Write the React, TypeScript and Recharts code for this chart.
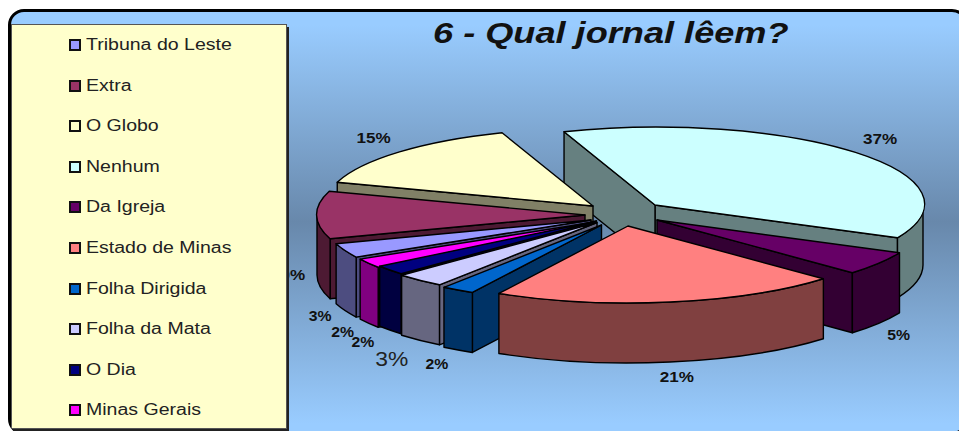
import { PieChart, Pie, Legend } from 'recharts';

// legend order, top to bottom
const categories = [
  'Tribuna do Leste',
  'Extra',
  'O Globo',
  'Nenhum',
  'Da Igreja',
  'Estado de Minas',
  'Folha Dirigida',
  'Folha da Mata',
  'O Dia',
  'Minas Gerais',
];
const values = [3, 10, 15, 37, 5, 21, 2, 3, 2, 2];
const colors = [
  '#9999ff',
  '#993366',
  '#ffffcc',
  '#ccffff',
  '#660066',
  '#ff8080',
  '#0066cc',
  '#ccccff',
  '#000080',
  '#ff00ff',
];
// how far each slice is pulled out of the pie
const explode = [
  [-9, 7],
  [-15, 2],
  [-7, -7],
  [55, -8],
  [57, 7],
  [28, 13],
  [1.5, 12],
  [-3, 9.5],
  [-3.5, 8],
  [-5, 9],
];
const labelNudge = [
  [-25, 65],
  [-29, 60],
  [-30, -14],
  [24, -15],
  [20, 72],
  [7, 75],
  [-21, 74],
  [-28, 78],
  [-27, 72],
  [-26, 69],
];
// counter clockwise from the right edge of Nenhum, back slices get painted first
const pieOrder = [3, 2, 1, 0, 9, 8, 7, 6, 5, 4];
const data = pieOrder.map((i) => ({ name: categories[i], value: values[i], idx: i }));

const RADIUS = 268;
const TILT = 77 / 268;
const DEPTH = 60;
const BACK_SKEW = 9; // far edge of the pie leans left a bit in the original
const rad = (a: number) => (a * Math.PI) / 180;

function darken(hex: string) {
  const n = parseInt(hex.slice(1), 16);
  const half = (v: number) => Math.round(v / 2);
  return `rgb(${half(n >> 16)},${half((n >> 8) & 255)},${half(n & 255)})`;
}

function Slice3D(props: any) {
  const { cx, cy, startAngle, endAngle, outerRadius, payload, only } = props;
  const idx = payload?.idx ?? props.idx;
  const front = idx === 5;
  if (only !== front) return <g />;
  const ax = cx + explode[idx][0];
  const ay = cy + explode[idx][1];
  const rx = outerRadius;
  const ry = outerRadius * TILT;
  const pt = (a: number): [number, number] => {
    const s = Math.sin(rad(a));
    return [ax + rx * Math.cos(rad(a)) - (s > 0 ? BACK_SKEW * s * s : 0), ay - ry * s];
  };
  const arc = (from: number, to: number, dy = 0, sweep = 0) => {
    const [x, y] = pt(to);
    return `A ${rx} ${ry} 0 ${Math.abs(to - from) > 180 ? 1 : 0} ${sweep} ${x} ${y + dy}`;
  };
  const top = pt(startAngle);
  const fill = colors[idx];
  const wall = darken(fill);
  const mid = pt((startAngle + endAngle) / 2);

  const sideWalls = [startAngle, endAngle].filter((a) => {
    let [ex, ey] = pt(a);
    ex -= ax;
    ey -= ay;
    if (ex < 0) {
      ex = -ex;
      ey = -ey;
    }
    return ex * (mid[1] - ay) - ey * (mid[0] - ax) < 0;
  });

  const outer = [
    [-180, 0],
    [180, 360],
  ]
    .map(([lo, hi]) => [Math.max(lo, startAngle), Math.min(hi, endAngle)])
    .filter(([lo, hi]) => hi > lo);

  return (
    <g stroke="#000" strokeWidth={1.4} strokeLinejoin="round">
      {sideWalls.map((a) => {
        const [x, y] = pt(a);
        return (
          <path
            key={a}
            fill={wall}
            d={`M ${ax} ${ay} L ${x} ${y} L ${x} ${y + DEPTH} L ${ax} ${ay + DEPTH} Z`}
          />
        );
      })}
      {outer.map(([lo, hi]) => {
        const [x0, y0] = pt(lo);
        const [x1, y1] = pt(hi);
        return (
          <path
            key={lo}
            fill={wall}
            d={`M ${x0} ${y0} ${arc(lo, hi)} L ${x1} ${y1 + DEPTH} ${arc(hi, lo, DEPTH, 1)} Z`}
          />
        );
      })}
      <path fill={fill} d={`M ${ax} ${ay} L ${top[0]} ${top[1]} ${arc(startAngle, endAngle)} Z`} />
    </g>
  );
}

function SliceLabel(props: any) {
  const { cx, cy, midAngle, outerRadius, payload, only } = props;
  const idx = payload?.idx ?? props.idx;
  if (only !== (idx === 5)) return null;
  const x = cx + explode[idx][0] + outerRadius * Math.cos(rad(midAngle)) + labelNudge[idx][0];
  const y = cy + explode[idx][1] - outerRadius * TILT * Math.sin(rad(midAngle)) + labelNudge[idx][1];
  const big = categories[idx] === 'Folha da Mata';
  const text = `${values[idx]}%`;
  return (
    <text
      x={x}
      y={y}
      textAnchor="middle"
      dominantBaseline="central"
      fontFamily="Liberation Sans"
      fontSize={big ? 21 : 14}
      fontWeight={big ? 400 : 700}
      fill={big ? '#222' : '#111'}
      textLength={big ? 33 : text.length * 11.4}
      lengthAdjust="spacingAndGlyphs"
    >
      {text}
    </text>
  );
}

function ChartLegend() {
  return (
    <div
      style={{
        width: 274,
        height: 403,
        background: '#ffffcc',
        border: '1px solid #555',
        boxShadow: '2px 3px 0 #222',
        position: 'relative',
        fontFamily: 'Liberation Sans',
      }}
    >
      {categories.map((name, i) => (
        <div
          key={name}
          style={{ position: 'absolute', left: 57, top: 12 + i * 40.6, height: 16, display: 'flex', alignItems: 'center' }}
        >
          <span
            style={{
              width: 8,
              height: 8,
              border: '2px solid #111',
              background: colors[i],
              display: 'inline-block',
            }}
          />
          <span
            style={{
              marginLeft: 5,
              fontSize: 16,
              color: '#222',
              whiteSpace: 'nowrap',
              transform: 'scaleX(1.22)',
              transformOrigin: 'left center',
            }}
          >
            {name}
          </span>
        </div>
      ))}
    </div>
  );
}

export default function App() {
  return (
    <div style={{ position: 'absolute', left: 0, top: 0, width: 959, height: 431, overflow: 'hidden', background: '#fff' }}>
      <div
        style={{
          position: 'absolute',
          left: 8,
          top: 9,
          width: 960,
          height: 426,
          boxSizing: 'border-box',
          border: '3.5px solid #000',
          borderRadius: 16,
          background: 'linear-gradient(180deg, #99ccff 3%, #6888ab 50%, #99ccff 98%)',
        }}
      />
      <div
        style={{
          position: 'absolute',
          left: 433,
          top: 16,
          fontFamily: 'Liberation Sans',
          fontStyle: 'italic',
          fontWeight: 700,
          fontSize: 30,
          color: '#111',
          whiteSpace: 'nowrap',
          transform: 'scaleX(1.205)',
          transformOrigin: 'left center',
        }}
      >
        6 - Qual jornal lêem?
      </div>
      <div style={{ position: 'absolute', left: 0, top: 0 }}>
        <PieChart width={959} height={431} margin={{ top: 0, right: 0, bottom: 0, left: 0 }}>
          <Pie
            data={data}
            dataKey="value"
            nameKey="name"
            cx={600}
            cy={213}
            outerRadius={RADIUS}
            startAngle={-25.2}
            endAngle={334.8}
            isAnimationActive={false}
            labelLine={false}
            label={(p: any) => <SliceLabel {...p} only={false} />}
            shape={(p: any) => <Slice3D {...p} only={false} />}
          />
          <Pie
            data={data}
            dataKey="value"
            nameKey="name"
            cx={600}
            cy={213}
            outerRadius={RADIUS}
            startAngle={-25.2}
            endAngle={334.8}
            isAnimationActive={false}
            labelLine={false}
            label={(p: any) => <SliceLabel {...p} only={true} />}
            shape={(p: any) => <Slice3D {...p} only={true} />}
          />
          <Legend
            content={() => <ChartLegend />}
            wrapperStyle={{ position: 'absolute', left: 11, top: 24, width: 276, bottom: 'auto' }}
          />
        </PieChart>
      </div>
    </div>
  );
}
